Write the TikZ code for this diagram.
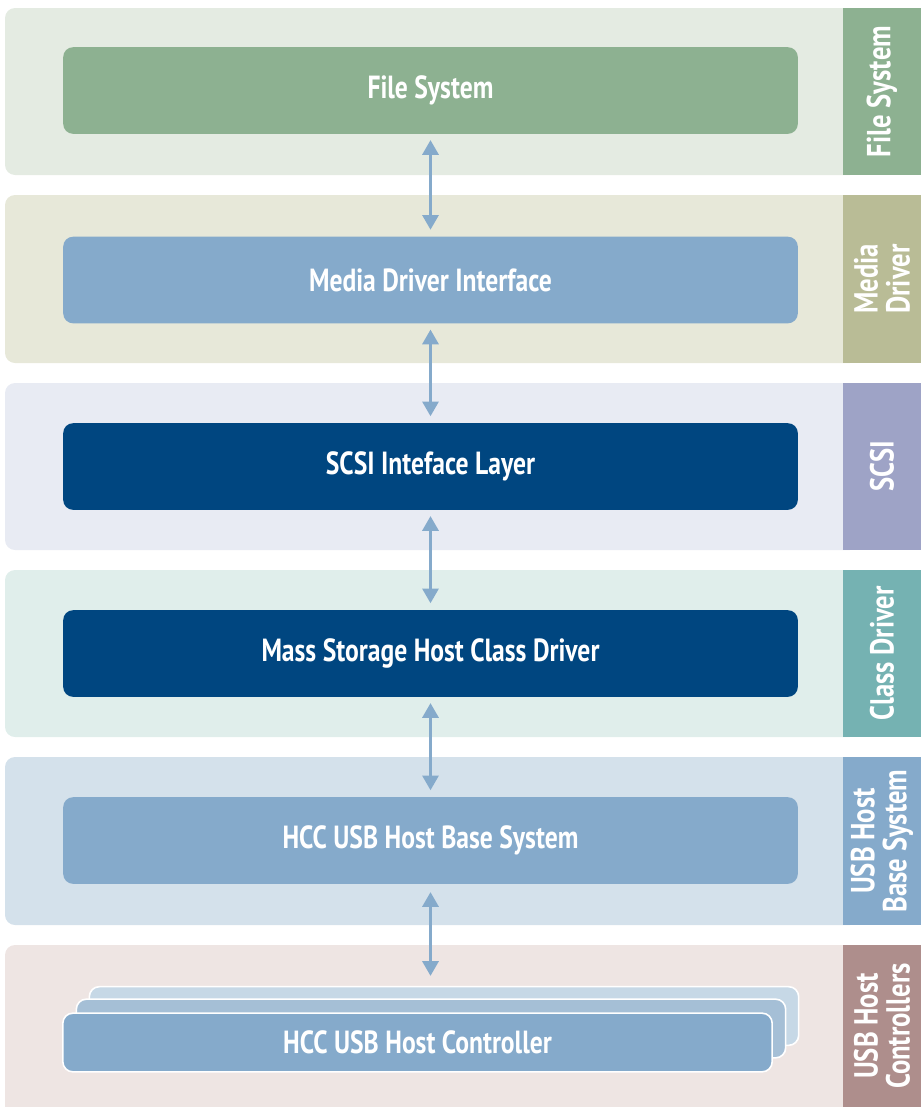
\documentclass[tikz,border=0pt]{standalone}
\usepackage{fontspec}
\setmainfont{PT Sans}[FakeStretch=0.8]
\usetikzlibrary{arrows.meta}

\definecolor{fsbg}{HTML}{E4EBE2}
\definecolor{fsgreen}{HTML}{8DB191}
\definecolor{mdbg}{HTML}{E7E8D9}
\definecolor{mdside}{HTML}{B9BC96}
\definecolor{scsibg}{HTML}{E8EBF3}
\definecolor{scsiside}{HTML}{9EA3C6}
\definecolor{cdbg}{HTML}{E0EEEB}
\definecolor{cdside}{HTML}{75B2B2}
\definecolor{hbbg}{HTML}{D4E1EB}
\definecolor{hcbg}{HTML}{EEE5E3}
\definecolor{hcside}{HTML}{AE8E8C}
\definecolor{lightblue}{HTML}{85AACB}
\definecolor{midblue}{HTML}{A5BFD6}
\definecolor{paleblue}{HTML}{C6D8E6}
\definecolor{darkblue}{HTML}{004680}

\tikzset{
  layerbox/.style={rounded corners=7.5pt, text=white, inner sep=0pt,
    minimum width=551pt, minimum height=65pt,
    font=\fontsize{24}{26}\selectfont\bfseries},
  sidebox/.style={rotate=90, text=white, inner sep=0pt, align=center,
    minimum width=125.5pt, minimum height=58.5pt,
    font=\fontsize{25}{24}\selectfont\bfseries},
  arr/.style={{Triangle[width=12pt,length=11pt]}-{Triangle[width=12pt,length=11pt]},
    lightblue, line width=2.2pt}
}

\begin{document}
\begin{tikzpicture}[x=0.75pt,y=-0.75pt]
\useasboundingbox (0,0) rectangle (921,1107);

% Schichten (Hintergrund)
\fill[fsbg, rounded corners=7.5pt] (5,8) rectangle (860,175);
\fill[mdbg, rounded corners=7.5pt] (5,195) rectangle (860,363);
\fill[scsibg, rounded corners=7.5pt] (5,383) rectangle (860,550);
\fill[cdbg, rounded corners=7.5pt] (5,570) rectangle (860,737);
\fill[hbbg, rounded corners=7.5pt] (5,757) rectangle (860,925);
\fill[hcbg, rounded corners=7.5pt] (5,945) rectangle (860,1120);

% Beschriftungen rechts
\node[sidebox, fill=fsgreen] (sfs) at (882,91.5) {File System};
\node[sidebox, fill=mdside] (smd) at (882,279) {Media\\Driver};
\node[sidebox, fill=scsiside] (sscsi) at (882,466.5) {SCSI};
\node[sidebox, fill=cdside] (scd) at (882,653.5) {Class Driver};
\node[sidebox, fill=lightblue] (shb) at (882,841) {USB Host\\Base System};
\node[sidebox, fill=hcside, minimum width=121.5pt] (shc) at (882,1026) {USB Host\\Controllers};

% Bausteine
\node[layerbox, fill=fsgreen] (fs) at (430.5,90.5) {File System};
\node[layerbox, fill=lightblue] (mdi) at (430.5,280) {Media Driver Interface};
\node[layerbox, fill=darkblue] (scsi) at (430.5,466.5) {SCSI Inteface Layer};
\node[layerbox, fill=darkblue] (mshc) at (430.5,653.5) {Mass Storage Host Class Driver};
\node[layerbox, fill=lightblue] (hb) at (430.5,840.5) {HCC USB Host Base System};

% Host Controller (gestapelt)
\node[layerbox, fill=paleblue, draw=white, line width=1.2pt, minimum width=532pt,
  minimum height=44pt] (hc3) at (444,1016) {};
\node[layerbox, fill=midblue, draw=white, line width=1.2pt, minimum width=532pt,
  minimum height=44pt] (hc2) at (431,1028.5) {};
\node[layerbox, fill=lightblue, draw=white, line width=1.2pt, minimum width=532pt,
  minimum height=44pt] (hc) at (417.5,1042.5) {HCC USB Host Controller};

% Pfeile
\draw[arr, shorten <=4.5pt, shorten >=5pt] (fs.south) -- (mdi.north);
\draw[arr, shorten <=4.5pt, shorten >=5pt] (mdi.south) -- (scsi.north);
\draw[arr, shorten <=4.5pt, shorten >=5pt] (scsi.south) -- (mshc.north);
\draw[arr, shorten <=4.5pt, shorten >=5pt] (mshc.south) -- (hb.north);
\draw[arr, shorten <=6pt, shorten >=7.5pt] (hb.south) -- (hb.south |- hc3.north);

\end{tikzpicture}
\end{document}
